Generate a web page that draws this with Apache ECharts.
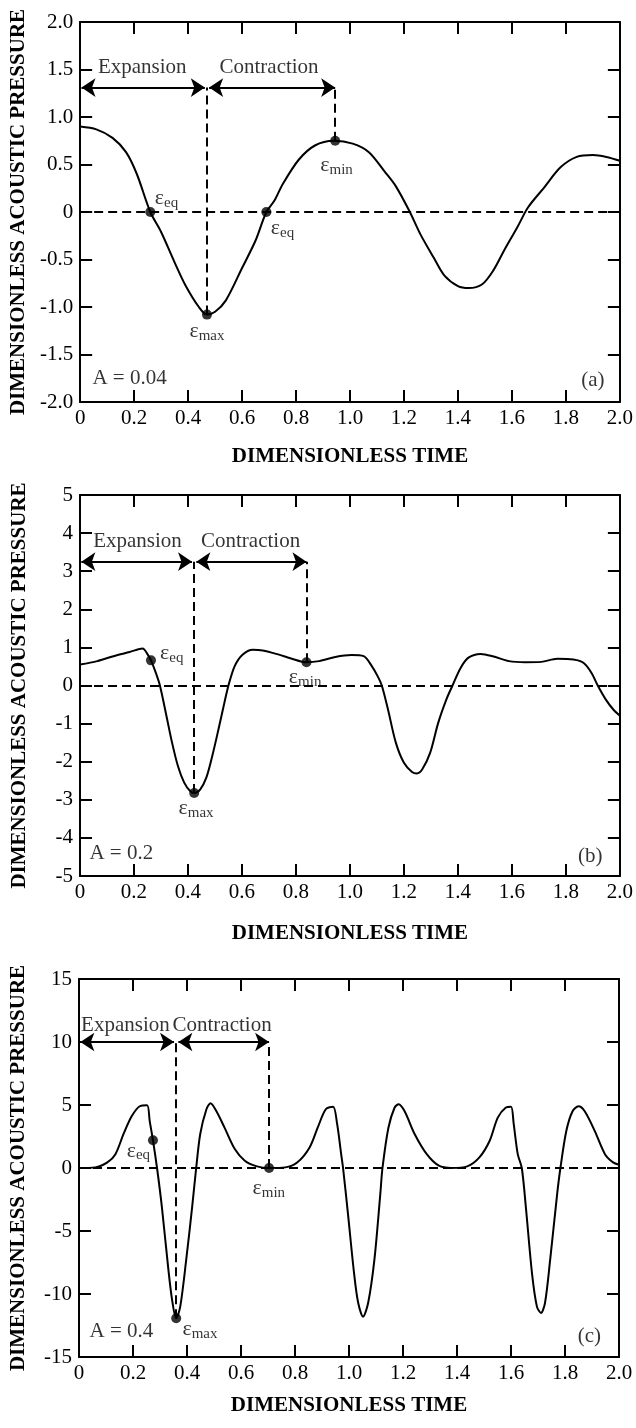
<!DOCTYPE html>
<html>
<head>
<meta charset="utf-8">
<script src="https://cdn.jsdelivr.net/npm/echarts@6/dist/echarts.min.js"></script>
<style>
  html, body { margin: 0; padding: 0; background: #fff; }
  #chart { width: 636px; height: 1428px; }
</style>
</head>
<body>
<div id="chart"></div>
<script>
// (a) A = 0.04
const timeA = [0, 0.06, 0.12, 0.17, 0.21, 0.26, 0.30, 0.35, 0.39, 0.44, 0.47, 0.50, 0.54, 0.60, 0.65, 0.69, 0.72, 0.75, 0.81, 0.87, 0.94, 1.01, 1.07, 1.13, 1.17, 1.22, 1.26, 1.31, 1.35, 1.40, 1.44, 1.49, 1.53, 1.57, 1.62, 1.66, 1.72, 1.78, 1.84, 1.90, 1.95, 2.0];
const pressureA = [0.90, 0.87, 0.78, 0.63, 0.40, 0, -0.21, -0.53, -0.77, -1.00, -1.08, -1.05, -0.93, -0.59, -0.30, 0, 0.12, 0.29, 0.55, 0.70, 0.75, 0.72, 0.63, 0.42, 0.27, 0.01, -0.23, -0.48, -0.67, -0.78, -0.80, -0.76, -0.62, -0.41, -0.16, 0.05, 0.26, 0.47, 0.58, 0.60, 0.58, 0.54];
const markersA = [[0.26, 0], [0.47, -1.08], [0.69, 0], [0.945, 0.75]];

// (b) A = 0.2
const timeB = [0, 0.064, 0.124, 0.184, 0.232, 0.251, 0.263, 0.281, 0.296, 0.318, 0.341, 0.363, 0.386, 0.408, 0.423, 0.445, 0.468, 0.490, 0.513, 0.535, 0.550, 0.573, 0.602, 0.640, 0.677, 0.737, 0.782, 0.839, 0.886, 0.946, 1.006, 1.051, 1.081, 1.103, 1.118, 1.141, 1.170, 1.200, 1.230, 1.248, 1.268, 1.297, 1.327, 1.357, 1.380, 1.410, 1.439, 1.484, 1.529, 1.589, 1.649, 1.709, 1.768, 1.828, 1.866, 1.895, 1.918, 1.948, 1.978, 2.0];
const pressureB = [0.55, 0.64, 0.77, 0.88, 0.97, 0.81, 0.66, 0.33, 0, -0.72, -1.5, -2.12, -2.55, -2.77, -2.82, -2.73, -2.42, -1.85, -1.15, -0.45, 0, 0.51, 0.81, 0.94, 0.92, 0.81, 0.71, 0.61, 0.64, 0.75, 0.80, 0.77, 0.51, 0.24, 0, -0.63, -1.5, -2.03, -2.27, -2.31, -2.2, -1.77, -0.98, -0.37, 0, 0.46, 0.73, 0.83, 0.77, 0.64, 0.61, 0.62, 0.70, 0.68, 0.59, 0.33, 0, -0.37, -0.65, -0.79];
const markersB = [[0.263, 0.66], [0.423, -2.82], [0.839, 0.61]];

// (c) A = 0.4
const timeC = [0, 0.06, 0.105, 0.135, 0.165, 0.195, 0.225, 0.252, 0.262, 0.274, 0.289, 0.307, 0.330, 0.345, 0.360, 0.375, 0.397, 0.419, 0.434, 0.449, 0.472, 0.487, 0.509, 0.539, 0.577, 0.614, 0.659, 0.704, 0.764, 0.809, 0.854, 0.884, 0.914, 0.941, 0.956, 0.971, 0.978, 0.996, 1.019, 1.034, 1.052, 1.071, 1.094, 1.116, 1.124, 1.146, 1.169, 1.184, 1.206, 1.243, 1.288, 1.333, 1.378, 1.438, 1.483, 1.521, 1.551, 1.581, 1.600, 1.610, 1.625, 1.640, 1.655, 1.678, 1.696, 1.711, 1.726, 1.745, 1.771, 1.783, 1.805, 1.828, 1.850, 1.873, 1.910, 1.948, 1.978, 2.0];
const pressureC = [0, 0.05, 0.45, 1.1, 2.7, 4.1, 4.9, 4.98, 3.7, 2.2, 0, -3.1, -7.85, -10.5, -11.93, -11.0, -7.3, -3.1, 0, 2.7, 4.66, 5.13, 4.5, 3.2, 1.5, 0.58, 0.13, 0, 0.05, 0.45, 1.63, 3.2, 4.66, 4.87, 3.5, 1.1, 0, -3.6, -8.4, -10.7, -11.8, -10.7, -7.3, -2.05, 0, 3.2, 4.8, 5.06, 4.5, 2.7, 1.1, 0.18, 0, 0.13, 0.84, 2.16, 4.0, 4.8, 4.87, 3.5, 1.1, 0, -3.1, -8.4, -11.0, -11.5, -10.7, -7.3, -2.05, 0, 2.95, 4.5, 4.9, 4.5, 2.95, 1.1, 0.45, 0.26];
const markersC = [[0.274, 2.2], [0.36, -11.93], [0.704, 0]];

// annotation texts: [text, t, value]; eq/max/min become epsilon labels
const textsA = [
  ['Expansion', 0.23, 1.52], ['Contraction', 0.70, 1.52],
  ['eq', 0.32, 0.14], ['max', 0.47, -1.26], ['eq', 0.75, -0.17], ['min', 0.95, 0.49],
  ['A = 0.04', 0.183, -1.75], ['(a)', 1.90, -1.77]
];
const textsB = [
  ['Expansion', 0.213, 3.77], ['Contraction', 0.632, 3.77],
  ['eq', 0.34, 0.85], ['max', 0.43, -3.22], ['min', 0.834, 0.22],
  ['A = 0.2', 0.153, -4.4], ['(b)', 1.89, -4.49]
];
const textsC = [
  ['Expansion', 0.172, 11.35], ['Contraction', 0.53, 11.35],
  ['eq', 0.22, 1.37], ['max', 0.448, -12.8], ['min', 0.703, -1.6],
  ['A = 0.4', 0.157, -13.0], ['(c)', 1.89, -13.4]
];

const FONT = 'Liberation Serif';
const SUBS = ['eq', 'max', 'min'];

const panels = [
  { time: timeA, value: pressureA, markers: markersA, texts: textsA,
    yMin: -2, yMax: 2, yStep: 0.5, digits: 1,
    grid: { left: 80, top: 22, width: 542, height: 380 }, xGap: 44, yGap: 50,
    arrowY: 1.31, split: 0.47, end: 0.945, guides: [markersA[1], markersA[3]] },
  { time: timeB, value: pressureB, markers: markersB, texts: textsB,
    yMin: -5, yMax: 5, yStep: 1, digits: 0,
    grid: { left: 80, top: 495, width: 542, height: 381 }, xGap: 47, yGap: 50,
    arrowY: 3.25, split: 0.423, end: 0.839, guides: [markersB[1], markersB[2]] },
  { time: timeC, value: pressureC, markers: markersC, texts: textsC,
    yMin: -15, yMax: 15, yStep: 5, digits: 0,
    grid: { left: 77, top: 979, width: 542, height: 378 }, xGap: 38, yGap: 50,
    arrowY: 10, split: 0.36, end: 0.704, guides: [markersC[1], markersC[2]] }
];

const black = '#000';
const tickFmt = (digits) => (v) => (Math.abs(v) < 1e-9 ? '0' : v.toFixed(digits));

const grids = [], xAxes = [], yAxes = [], series = [];

panels.forEach((p, i) => {
  grids.push(p.grid);
  const line = { show: true, onZero: false, lineStyle: { color: black, width: 2 } };
  const tick = { show: true, inside: true, length: 12, lineStyle: { color: black, width: 2 } };
  const label = { color: black, fontFamily: FONT, fontSize: 21 };

  xAxes.push({
    type: 'value', gridIndex: i, min: 0, max: 2, interval: 0.2, position: 'bottom',
    axisLine: line, axisTick: tick, splitLine: { show: false },
    axisLabel: Object.assign({ margin: 6, showMinLabel: true, showMaxLabel: true, formatter: tickFmt(1) }, label),
    name: 'DIMENSIONLESS TIME', nameLocation: 'middle', nameGap: p.xGap,
    nameTextStyle: { color: black, fontFamily: FONT, fontWeight: 'bold', fontSize: 21 }
  });
  xAxes.push({
    type: 'value', gridIndex: i, min: 0, max: 2, interval: 0.2, position: 'top',
    axisLine: line, axisTick: tick, splitLine: { show: false }, axisLabel: { show: false }
  });
  yAxes.push({
    type: 'value', gridIndex: i, min: p.yMin, max: p.yMax, interval: p.yStep, position: 'left',
    axisLine: line, axisTick: tick, splitLine: { show: false },
    axisLabel: Object.assign({ margin: 7, showMinLabel: true, showMaxLabel: true, formatter: tickFmt(p.digits) }, label),
    name: 'DIMENSIONLESS ACOUSTIC PRESSURE', nameLocation: 'middle', nameGap: p.yGap,
    nameTextStyle: { color: black, fontFamily: FONT, fontWeight: 'bold', fontSize: 21 }
  });
  yAxes.push({
    type: 'value', gridIndex: i, min: p.yMin, max: p.yMax, interval: p.yStep, position: 'right',
    axisLine: line, axisTick: tick, splitLine: { show: false }, axisLabel: { show: false }
  });

  const ax = { xAxisIndex: 2 * i, yAxisIndex: 2 * i };

  // pressure curve
  series.push(Object.assign({
    type: 'line', data: p.time.map((t, k) => [t, p.value[k]]),
    smooth: 0.3, symbol: 'none', lineStyle: { color: black, width: 2 }, z: 4
  }, ax));

  // dashed zero line and vertical guides
  series.push(Object.assign({
    type: 'lines', coordinateSystem: 'cartesian2d', symbol: 'none',
    lineStyle: { color: black, width: 2, type: [9, 5], opacity: 1 },
    data: [{ coords: [[0, 0], [2, 0]] }].concat(
      p.guides.map((g) => ({ coords: [g, [g[0], p.arrowY]] })))
  }, ax));

  // expansion / contraction arrows
  series.push(Object.assign({
    type: 'lines', coordinateSystem: 'cartesian2d', symbol: ['arrow', 'arrow'], symbolSize: 14,
    lineStyle: { color: black, width: 2, opacity: 1 },
    data: [
      { coords: [[0.005, p.arrowY], [p.split - 0.008, p.arrowY]] },
      { coords: [[p.split + 0.008, p.arrowY], [p.end, p.arrowY]] }
    ]
  }, ax));

  // epsilon points
  series.push(Object.assign({
    type: 'scatter', symbol: 'circle', symbolSize: 10, itemStyle: { color: black }, z: 5,
    data: p.markers
  }, ax));

  // text annotations
  series.push(Object.assign({
    type: 'scatter', symbolSize: 0, z: 6,
    data: p.texts.map((d) => ({ value: [d[1], d[2]], txt: d[0] })),
    label: {
      show: true, position: 'inside', color: black, fontFamily: FONT, fontSize: 21,
      formatter: (prm) => SUBS.includes(prm.data.txt) ? '{e|ε}{s|' + prm.data.txt + '}' : prm.data.txt,
      rich: {
        e: { fontFamily: FONT, fontSize: 22, color: black },
        s: { fontFamily: FONT, fontSize: 15, color: black, padding: [9, 0, 0, 0] }
      }
    }
  }, ax));
});

const chart = echarts.init(document.getElementById('chart'), null, { renderer: 'canvas' });
chart.setOption({
  animation: false,
  backgroundColor: '#fff',
  grid: grids,
  xAxis: xAxes,
  yAxis: yAxes,
  series: series.map((s) => Object.assign({ silent: true }, s))
});
</script>
</body>
</html>
